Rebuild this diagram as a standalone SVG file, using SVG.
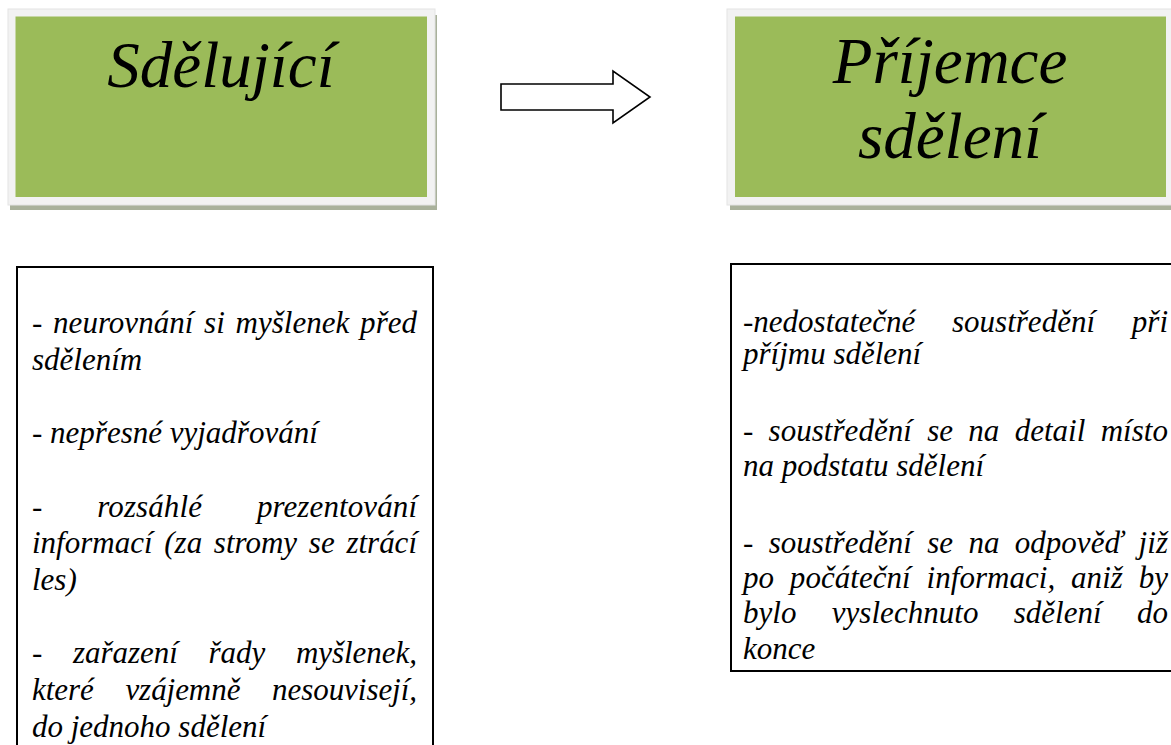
<svg xmlns="http://www.w3.org/2000/svg" width="1171" height="745" viewBox="0 0 1171 745">
<style>
.shadow{fill:#a9b19b}
.frame{fill:#f2f2f2;stroke:#e4e4e4;stroke-width:1}
.green{fill:#9bbb59}
text{font-family:'Liberation Serif','Times New Roman',serif;font-style:italic;fill:#000}
.title{font-size:65px;text-anchor:middle}
.box{fill:#fff;stroke:#000;stroke-width:2}
.t{font-size:31px}
</style>
<rect width="1171" height="745" fill="#fff"/>
<g id="node-sdelujici">
<rect class="shadow" x="10" y="15" width="427" height="195"/>
<rect class="frame" x="8" y="9" width="427" height="196"/>
<rect class="green" x="15.5" y="16.5" width="411.5" height="180.5"/>
<text class="title" x="221" y="87">Sdělující</text>
</g>
<g id="node-prijemce">
<rect class="shadow" x="730" y="15" width="460" height="195"/>
<rect class="frame" x="727" y="9" width="460" height="196"/>
<rect class="green" x="735" y="16.5" width="431" height="180.5"/>
<text class="title" x="950" y="83">Příjemce</text>
<text class="title" x="950" y="158">sdělení</text>
</g>
<g id="connectors">
<path d="M501,84 H613 V71 L650,97 L613,123 V110 H501 Z" fill="#fff" stroke="#000" stroke-width="1.6" stroke-linejoin="miter"/>
</g>
<g id="node-left-list">
<rect class="box" x="17" y="267" width="416" height="500"/>
<text class="t" x="32" y="333" word-spacing="3" textLength="385" lengthAdjust="spacing">- neurovnání si myšlenek před</text>
<text class="t" x="32" y="370">sdělením</text>
<text class="t" x="32" y="443">- nepřesné vyjadřování</text>
<text class="t" x="32" y="517" word-spacing="47" textLength="385" lengthAdjust="spacing">- rozsáhlé prezentování</text>
<text class="t" x="32" y="553" word-spacing="4" textLength="385" lengthAdjust="spacing">informací (za stromy se ztrácí</text>
<text class="t" x="32" y="590">les)</text>
<text class="t" x="32" y="663" word-spacing="23" textLength="385" lengthAdjust="spacing">- zařazení řady myšlenek,</text>
<text class="t" x="32" y="700" word-spacing="24" textLength="385" lengthAdjust="spacing">které vzájemně nesouvisejí,</text>
<text class="t" x="32" y="737">do jednoho sdělení</text>
</g>
<g id="node-right-list">
<rect class="box" x="731" y="264" width="460" height="407"/>
<text class="t" x="743" y="332" word-spacing="29" textLength="425" lengthAdjust="spacing">-nedostatečné soustředění při</text>
<text class="t" x="743" y="364">příjmu sdělení</text>
<text class="t" x="743" y="441" word-spacing="7.5" textLength="425" lengthAdjust="spacing">- soustředění se na detail místo</text>
<text class="t" x="743" y="476">na podstatu sdělení</text>
<text class="t" x="743" y="553" word-spacing="7.5" textLength="425" lengthAdjust="spacing">- soustředění se na odpověď již</text>
<text class="t" x="743" y="588" word-spacing="8" textLength="425" lengthAdjust="spacing">po počáteční informaci, aniž by</text>
<text class="t" x="743" y="623" word-spacing="27.5" textLength="425" lengthAdjust="spacing">bylo vyslechnuto sdělení do</text>
<text class="t" x="743" y="659">konce</text>
</g>
</svg>
